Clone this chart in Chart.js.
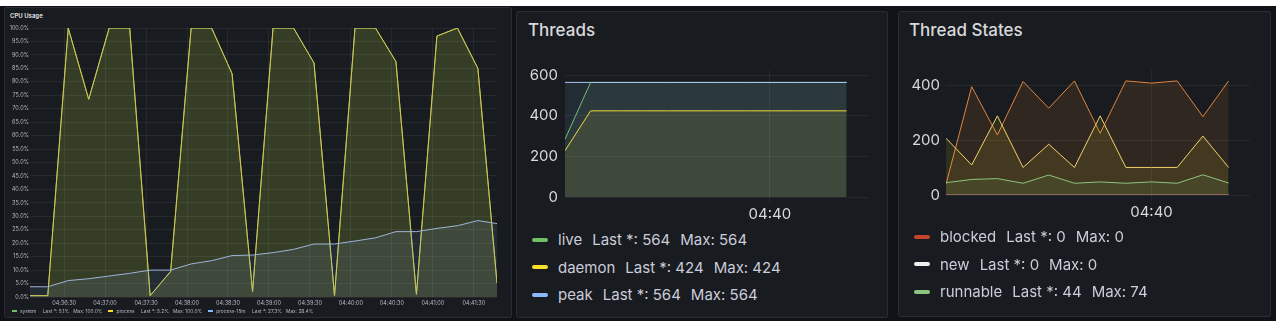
<!DOCTYPE html>
<html>
<head>
<meta charset="utf-8">
<script src="https://cdn.jsdelivr.net/npm/chart.js@4.4.0/dist/chart.umd.min.js"></script>
<style>
  html, body { margin: 0; padding: 0; width: 1280px; height: 327px; overflow: hidden; background: #fff; font-family: Inter, "Noto Sans", sans-serif; }
  #dash { position: absolute; left: 0; top: 6px; width: 1276px; height: 315px; background: #111217; }
  .panel { position: absolute; box-sizing: border-box; background: #181b1f; border: 1px solid #2a2d33; border-radius: 2px; }
  .title { position: absolute; color: #d8d9da; font-weight: 500; white-space: nowrap; }
  canvas { position: absolute; }
  .legend { position: absolute; color: #ccccdc; white-space: nowrap; }
  .legend .item { display: flex; align-items: center; }
  .legend .mark { display: inline-block; }
  #cpu-legend { display: flex; font-size: 4.8px; line-height: 8px; color: #b8b8c4; }
  #cpu-legend .item { margin-right: 6px; }
  #cpu-legend .mark { width: 5px; height: 1.5px; margin-right: 3px; }
  #cpu-legend .gap { margin-left: 4px; }
  #cpu-legend .gap.first { margin-left: 6.5px; }
  .big .item { height: 27.6px; font-size: 15px; }
  .big .mark { width: 16px; height: 4px; border-radius: 2px; margin-right: 10px; }
  .big .gap { margin-left: 10px; }
</style>
</head>
<body>
<div id="dash"></div>

<div class="panel" style="left:4px;top:7px;width:508px;height:311px;"></div>
<div class="title" style="left:10px;top:12px;font-size:6px;font-weight:700;">CPU Usage</div>
<canvas id="cpu-usage" width="508" height="292" style="left:4px;top:20px;"></canvas>
<div class="legend" id="cpu-legend" style="left:12px;top:307px;"></div>

<div class="panel" style="left:516px;top:11px;width:372px;height:307px;"></div>
<div class="title" style="left:528px;top:20px;font-size:17px;">Threads</div>
<canvas id="threads" width="372" height="171" style="left:516px;top:54px;"></canvas>
<div class="legend big" id="threads-legend" style="left:532px;top:226px;"></div>

<div class="panel" style="left:898px;top:11px;width:373px;height:306px;"></div>
<div class="title" style="left:909px;top:20px;font-size:17px;">Thread States</div>
<canvas id="thread-states" width="373" height="170" style="left:898px;top:55px;"></canvas>
<div class="legend big" id="thread-states-legend" style="left:914px;top:223px;"></div>

<script>
/* times are seconds after 04:36:00 */
var cpuTimes = [5, 18, 33, 48, 63, 78, 93, 108, 123, 138, 153, 168, 183, 198, 213, 228, 243, 258, 273, 288, 303, 318, 333, 347];
var cpuSystem = [0.5, 0.5, 100, 73.5, 100, 100, 0.5, 9.5, 100, 100, 83, 2, 100, 100, 87, 0.5, 100, 100, 87.5, 1, 97, 100, 85, 5.1];
var cpuProcess = [0.5, 0.5, 100, 73.5, 100, 100, 0.5, 9.5, 100, 100, 83, 2, 100, 100, 87, 0.5, 100, 100, 87.5, 1, 97, 100, 85, 5.2];
var cpuProcess15m = [3.8, 3.8, 6.1, 6.8, 7.8, 8.8, 10.0, 10.0, 12.3, 13.5, 15.4, 15.6, 16.5, 17.7, 19.7, 19.7, 20.8, 22.0, 24.3, 24.3, 25.5, 26.5, 28.4, 27.3];
var cpuTicksX = [30, 60, 90, 120, 150, 180, 210, 240, 270, 300, 330];
var cpuTicksY = [0, 5, 10, 15, 20, 25, 30, 35, 40, 45, 50, 55, 60, 65, 70, 75, 80, 85, 90, 95, 100];

var threadTimes = [0, 30, 60, 90, 120, 150, 180, 210, 240, 270, 300, 330];
var threadsLive = [284, 564, 564, 564, 564, 564, 564, 564, 564, 564, 564, 564];
var threadsDaemon = [228, 424, 424, 424, 424, 424, 424, 424, 424, 424, 424, 424];
var threadsPeak = [564, 564, 564, 564, 564, 564, 564, 564, 564, 564, 564, 564];
var threadsTicksY = [0, 200, 400, 600];

var statesBlocked = [0, 0, 0, 0, 0, 0, 0, 0, 0, 0, 0, 0];
var statesNew = [0, 0, 0, 0, 0, 0, 0, 0, 0, 0, 0, 0];
var statesRunnable = [45, 57, 60, 43, 73, 43, 48, 43, 48, 43, 74, 44];
var statesTimedWaiting = [208, 110, 290, 101, 186, 101, 290, 101, 101, 101, 216, 101];
var statesWaiting = [40, 397, 220, 416, 318, 418, 226, 418, 410, 418, 287, 418];
var statesTicksY = [0, 200, 400];

var timeTicksMinute = [240];

Chart.defaults.font.family = 'Inter, "Noto Sans", sans-serif';

var BASE = 4 * 3600 + 36 * 60;
function clock(sec, withSeconds) {
  var t = BASE + sec;
  var p = function (n) { return (n < 10 ? '0' : '') + n; };
  var s = p(Math.floor(t / 3600)) + ':' + p(Math.floor(t % 3600 / 60));
  return withSeconds ? s + ':' + p(t % 60) : s;
}

function points(times, values) {
  return times.map(function (t, i) { return { x: t, y: values[i] }; });
}

function series(label, times, values, color, fillColor, order) {
  return {
    label: label,
    data: points(times, values),
    borderColor: color,
    backgroundColor: fillColor,
    borderWidth: 1,
    fill: 'origin',
    pointRadius: 0,
    tension: 0,
    order: order
  };
}

function fixedTicks(list) {
  return function (scale) {
    scale.ticks = list.map(function (v) { return { value: v }; });
  };
}

function buildLegend(id, items, fmt) {
  var el = document.getElementById(id);
  items.forEach(function (it) {
    var last = it.data[it.data.length - 1];
    var max = Math.max.apply(null, it.data);
    var row = document.createElement('div');
    row.className = 'item';
    row.innerHTML = '<span class="mark" style="background:' + it.color + '"></span>' +
      '<span>' + it.label + '</span>' +
      '<span class="gap first">Last *: ' + fmt(last) + '</span>' +
      '<span class="gap">Max: ' + fmt(max) + '</span>';
    el.appendChild(row);
  });
}

var gridColor = 'rgba(204,204,220,0.08)';

/* CPU usage */
new Chart(document.getElementById('cpu-usage'), {
  type: 'line',
  data: {
    datasets: [
      series('system', cpuTimes, cpuSystem, '#73BF69', 'rgba(115,191,105,0.1)', 3),
      series('process', cpuTimes, cpuProcess, '#D8C24A', 'rgba(250,222,42,0.1)', 2),
      series('process-15m', cpuTimes, cpuProcess15m, '#9DB4DA', 'rgba(138,184,255,0.1)', 1)
    ]
  },
  options: {
    responsive: false,
    animation: false,
    layout: { padding: { left: 0, right: 15, top: 8, bottom: 0 } },
    plugins: { legend: { display: false }, tooltip: { enabled: false } },
    scales: {
      x: {
        type: 'linear', min: 5, max: 347, bounds: 'data',
        afterBuildTicks: fixedTicks(cpuTicksX),
        afterFit: function (s) { s.height = 15; },
        grid: { color: gridColor, drawTicks: false },
        border: { display: false },
        ticks: { color: '#b8b8c4', font: { size: 5.5 }, padding: 3, maxRotation: 0, autoSkip: false,
          callback: function (v) { return clock(v, true); } }
      },
      y: {
        min: 0, max: 100,
        afterBuildTicks: fixedTicks(cpuTicksY),
        afterFit: function (s) { s.width = 26; },
        grid: { color: gridColor, drawTicks: false },
        border: { display: false },
        ticks: { color: '#b8b8c4', font: { size: 5.5 }, padding: 1, autoSkip: false,
          callback: function (v) { return v.toFixed(1) + '%'; } }
      }
    }
  }
});

buildLegend('cpu-legend', [
  { label: 'system', data: cpuSystem, color: '#73BF69' },
  { label: 'process', data: cpuProcess, color: '#FADE2A' },
  { label: 'process-15m', data: cpuProcess15m, color: '#8AB8FF' }
], function (v) { return v.toFixed(1) + '%'; });

/* the y labels add (half label height + padding) above the plot, canvases are placed for that */
function bigOptions(yMax, yTicks, yWidth, yPad, rightPad, xHeight) {
  return {
    responsive: false,
    animation: false,
    layout: { padding: { left: 0, right: rightPad, top: 0, bottom: 0 } },
    plugins: { legend: { display: false }, tooltip: { enabled: false } },
    scales: {
      x: {
        type: 'linear', min: 0, max: 355, bounds: 'data',
        afterBuildTicks: fixedTicks(timeTicksMinute),
        afterFit: function (s) { s.height = xHeight; },
        grid: { color: gridColor, drawTicks: true, tickLength: 6 },
        border: { display: false },
        ticks: { color: '#d8d9da', font: { size: 15 }, padding: 2, maxRotation: 0, autoSkip: false,
          callback: function (v) { return clock(v, false); } }
      },
      y: {
        min: 0, max: yMax,
        afterBuildTicks: fixedTicks(yTicks),
        afterFit: function (s) { s.width = yWidth; },
        grid: { color: gridColor, drawTicks: false },
        border: { display: false },
        ticks: { color: '#d8d9da', font: { size: 15 }, padding: yPad, autoSkip: false }
      }
    }
  };
}

/* Threads */
new Chart(document.getElementById('threads'), {
  type: 'line',
  data: {
    datasets: [
      series('live', threadTimes, threadsLive, '#73BF69', 'rgba(115,191,105,0.1)', 3),
      series('daemon', threadTimes, threadsDaemon, '#FADE2A', 'rgba(250,222,42,0.1)', 2),
      series('peak', threadTimes, threadsPeak, '#A9C6F5', 'rgba(138,184,255,0.1)', 1)
    ]
  },
  options: bigOptions(625, threadsTicksY, 49, 7, 20, 28)
});

buildLegend('threads-legend', [
  { label: 'live', data: threadsLive, color: '#73BF69' },
  { label: 'daemon', data: threadsDaemon, color: '#FADE2A' },
  { label: 'peak', data: threadsPeak, color: '#8AB8FF' }
], function (v) { return String(v); });

/* Thread states */
new Chart(document.getElementById('thread-states'), {
  type: 'line',
  data: {
    datasets: [
      series('blocked', threadTimes, statesBlocked, '#7A3326', 'rgba(196,69,46,0.1)', 1),
      series('new', threadTimes, statesNew, '#F0F0F0', 'rgba(240,240,240,0.1)', 2),
      series('runnable', threadTimes, statesRunnable, '#8DC47D', 'rgba(115,191,105,0.1)', 3),
      series('timed-waiting', threadTimes, statesTimedWaiting, '#F2D26A', 'rgba(250,222,42,0.1)', 4),
      series('waiting', threadTimes, statesWaiting, '#E0843F', 'rgba(255,152,48,0.1)', 5)
    ]
  },
  options: bigOptions(458, statesTicksY, 48, 6, 21, 30)
});

/* only the first three entries fit in the panel's legend area */
buildLegend('thread-states-legend', [
  { label: 'blocked', data: statesBlocked, color: '#C4452E' },
  { label: 'new', data: statesNew, color: '#F0F0F0' },
  { label: 'runnable', data: statesRunnable, color: '#8DC47D' }
], function (v) { return String(v); });
</script>
</body>
</html>
